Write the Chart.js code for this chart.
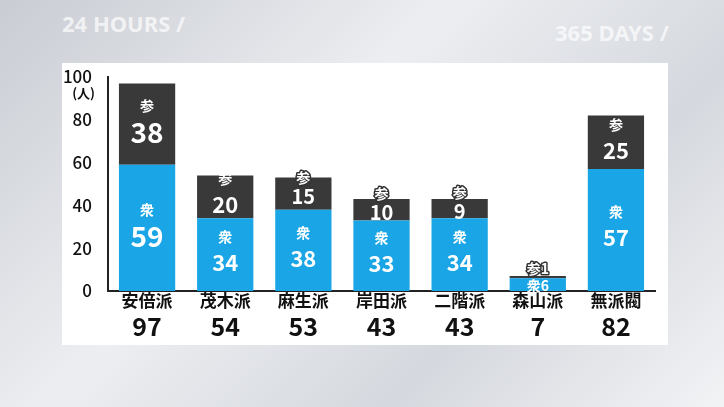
<!DOCTYPE html>
<html><head><meta charset="utf-8">
<script src="https://cdn.jsdelivr.net/npm/chart.js@4"></script>
<style>
body{margin:0;width:724px;height:407px;overflow:hidden;background:linear-gradient(135deg,#c9ccd3,#eceef1 40%,#d5d8de 70%,#f2f3f5);font-family:"Noto Sans CJK JP",sans-serif;position:relative}
.bg{position:absolute;font:bold 22px "Noto Sans";color:rgba(255,255,255,.7)}
.panel{position:absolute;left:62px;top:63px;width:606px;height:282px;background:#fff}
canvas{position:absolute;left:0;top:0}
</style></head><body>
<div class="bg" style="left:62px;top:8px">24 HOURS /</div>
<div class="bg" style="left:555px;top:17px">365 DAYS /</div>
<div class="panel"></div>
<canvas id="c" width="724" height="407"></canvas>
<script>
const categories=["安倍派","茂木派","麻生派","岸田派","二階派","森山派","無派閥"];
const shu=[59,34,38,33,34,6,57];
const san=[38,20,15,10,9,1,25];
const totals=[97,54,53,43,43,7,82];
const yTicks=[0,20,40,60,80,100];
const FONT='"Noto Sans CJK JP",sans-serif';
const labelPlugin={id:'lbl',afterDatasetsDraw(ch){
 const c=ch.ctx;c.save();c.textAlign='center';c.textBaseline='middle';
 const chars=['衆','参'];
 ch.data.datasets.forEach((ds,di)=>{
  ch.getDatasetMeta(di).data.forEach((b,i)=>{
   const top=Math.min(b.y,b.base),h=Math.abs(b.base-b.y),v=ds.data[i];
   c.fillStyle='#fff';c.strokeStyle='#333';c.lineWidth=3;c.lineJoin='round';
   if(h<15){
     c.font='bold 14px '+FONT;
     const t=chars[di]+v;
     const y=di==1?top-7:top+h/2+1;
     if(di==1){c.strokeText(t,b.x,y);}
     c.fillText(t,b.x,y);return;
   }
   let ny,cy,nf;
   if(h>40){ny=top+h/2+8;cy=ny-26;nf=totals[i]>=90?28:22;}
   else{ny=top+h/2+3;cy=ny-19;nf=20;}
   c.font='bold 14px '+FONT;
   if(h<=40) c.strokeText(chars[di],b.x,cy);
   c.fillText(chars[di],b.x,cy);
   c.font='bold '+nf+'px '+FONT;c.fillText(String(v),b.x,ny);
  });
 });
 const m=ch.getDatasetMeta(0);c.fillStyle='#111';
 m.data.forEach((b,i)=>{
  c.font='bold 17px '+FONT;c.fillText(categories[i],b.x,301);
  c.font='bold 25px '+FONT;c.fillText(String(totals[i]),b.x,326);
 });
 c.font='bold 13px '+FONT;c.textAlign='right';c.fillText('(人)',95,93);
 c.restore();
}};
new Chart(document.getElementById('c'),{
 type:'bar',
 data:{labels:categories,datasets:[
  {data:shu,backgroundColor:'#1aa6e6'},
  {data:san,backgroundColor:'#393939'}]},
 options:{responsive:false,animation:false,
  layout:{padding:{top:77,right:69,bottom:0,left:0}},
  plugins:{legend:{display:false},tooltip:{enabled:false}},
  scales:{
   x:{stacked:true,grid:{display:false},border:{color:'#222',width:2},ticks:{display:false},
      afterFit(s){s.height=116;},categoryPercentage:1,barPercentage:0.74},
   y:{stacked:true,min:0,max:100,afterBuildTicks(s){s.ticks=yTicks.map(v=>({value:v}));},
      grid:{display:false},border:{color:'#222',width:2},
      ticks:{color:'#111',font:{size:17,family:FONT,weight:'500'},padding:8},
      afterFit(s){s.width=108;}}
  }},
 plugins:[labelPlugin]
});
</script></body></html>
